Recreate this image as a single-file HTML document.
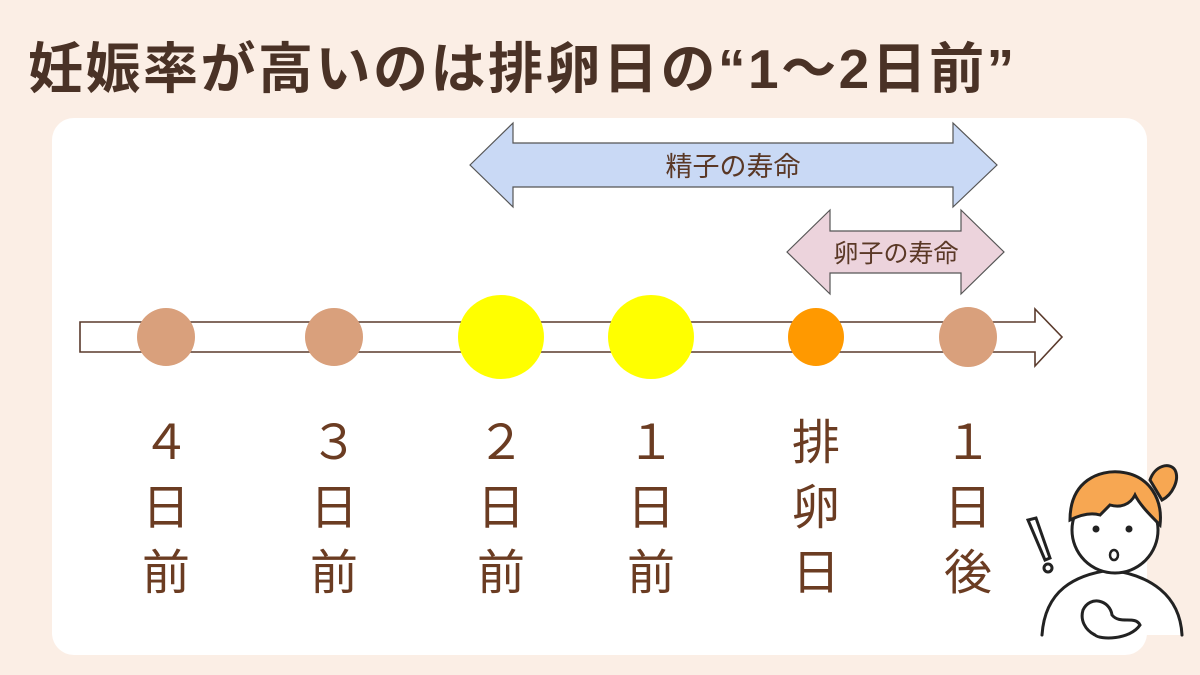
<!DOCTYPE html>
<html><head><meta charset="utf-8"><style>
body{margin:0;width:1200px;height:675px;background:#fbeee5;position:relative;overflow:hidden;font-family:"Liberation Sans","Noto Sans CJK JP",sans-serif}
.title{position:absolute;left:28px;top:34px;font-size:55px;font-weight:bold;color:#4a3226;letter-spacing:2.5px;white-space:nowrap;line-height:70px}
.card{position:absolute;left:52px;top:118px;width:1095px;height:537px;background:#fff;border-radius:22px}
.col{position:absolute;top:406px;width:80px;text-align:center;font-size:48px;color:#6b3c22;line-height:65px;font-family:"Noto Sans CJK JP",sans-serif;font-weight:400}
</style></head><body>
<div class="title">妊娠率が高いのは排卵日の“1～2日前”</div>
<div class="card"></div>
<svg width="1200" height="675" style="position:absolute;left:0;top:0">
<polygon points="470,165 513,123 513,143 953,143 953,123 997,165 953,207 953,187 513,187 513,207" fill="#c9d9f5" stroke="#555" stroke-width="1.2"/>
<text x="733" y="176" text-anchor="middle" font-size="27" fill="#5a3826" font-family="Noto Sans CJK JP,sans-serif">精子の寿命</text>
<polygon points="787,252 830,210 830,231 961,231 961,210 1004,252 961,294 961,273 830,273 830,294" fill="#ecd3dc" stroke="#555" stroke-width="1.2"/>
<text x="896" y="262" text-anchor="middle" font-size="25" fill="#5a3826" font-family="Noto Sans CJK JP,sans-serif">卵子の寿命</text>
<polygon points="80,322 1035,322 1035,309 1062,337 1035,366 1035,352 80,352" fill="#fff" stroke="#5a3a2c" stroke-width="1.6"/>
<circle cx="166" cy="337" r="29" fill="#d9a07c"/>
<circle cx="334" cy="337" r="29" fill="#d9a07c"/>
<ellipse cx="501" cy="337" rx="43" ry="42" fill="#ffff00"/>
<ellipse cx="651" cy="337" rx="43" ry="42" fill="#ffff00"/>
<ellipse cx="816" cy="337" rx="28" ry="29" fill="#ff9900"/>
<ellipse cx="968" cy="337" rx="29" ry="30" fill="#d9a07c"/>
<g stroke="#222" stroke-width="3" fill="none" stroke-linecap="round">
<path d="M1042,635 C1045,590 1075,575 1110,570 C1150,575 1180,595 1182,635" fill="#fff"/>
<circle cx="1115" cy="530" r="43" fill="#fff"/>
<path d="M1070,520 C1070,480 1100,470 1120,472 C1150,475 1163,500 1160,525 C1150,515 1140,505 1135,495 C1130,505 1120,508 1110,505 L1100,515 C1090,512 1080,515 1070,520Z" fill="#f7a752"/>
<path d="M1150,480 C1155,465 1170,462 1175,470 C1180,480 1172,495 1162,500Z" fill="#f7a752"/>
<path d="M1083,610 C1090,595 1110,600 1112,615 C1120,625 1135,615 1140,625 C1130,640 1100,640 1095,635 C1085,630 1080,620 1083,610Z" fill="#fff"/>
<path d="M1028,520 L1045,560 L1050,558 L1036,518Z"/>
<circle cx="1048" cy="568" r="4"/>
</g>
<circle cx="1096" cy="529" r="3.5" fill="#222"/><circle cx="1129" cy="529" r="3.5" fill="#222"/>
<ellipse cx="1114" cy="555" rx="4" ry="5" fill="none" stroke="#222" stroke-width="2.5"/>
</svg>
<div class="col" style="left:126px">４<br>日<br>前</div>
<div class="col" style="left:294px">３<br>日<br>前</div>
<div class="col" style="left:461px">２<br>日<br>前</div>
<div class="col" style="left:611px">１<br>日<br>前</div>
<div class="col" style="left:776px">排<br>卵<br>日</div>
<div class="col" style="left:928px">１<br>日<br>後</div>
</body></html>
